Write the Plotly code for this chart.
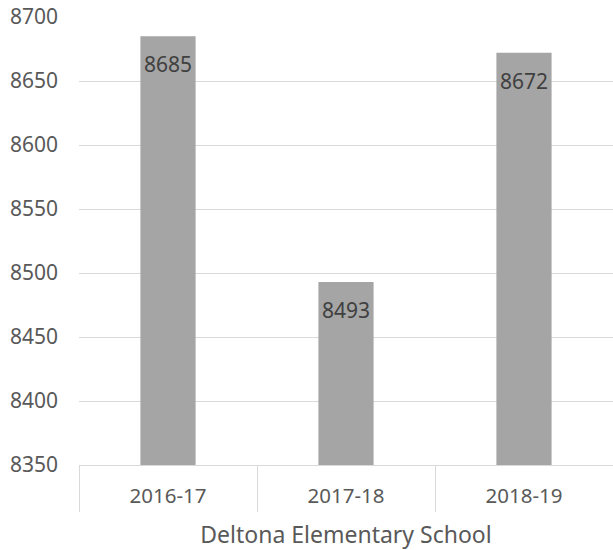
import plotly.graph_objects as go

categories = ["2016-17", "2017-18", "2018-19"]
values = [8685, 8493, 8672]
group_label = "Deltona Elementary School"

fig = go.Figure(go.Bar(
    x=categories, y=values,
    marker=dict(color="#A5A5A5", line=dict(width=0)),
    width=0.31,
    hoverinfo="x+y",
))

for c, v in zip(categories, values):
    fig.add_annotation(
        x=c, y=v, text=str(v), showarrow=False,
        yanchor="middle", yshift=-28,
        font=dict(family="Noto Sans", size=21, color="#404040"),
    )

fig.update_layout(
    width=613, height=550,
    margin=dict(l=79, r=0, t=17, b=85),
    paper_bgcolor="white", plot_bgcolor="white",
    showlegend=False,
    font=dict(family="Noto Sans", size=21, color="#595959"),
    xaxis=dict(
        type="category", automargin=False,
        showline=True, linecolor="#D9D9D9", linewidth=1,
        ticks="outside", tickson="boundaries", ticklen=46,
        tickcolor="#D9D9D9", tickwidth=1,
        ticklabelstandoff=12,
        tickfont=dict(size=20.5, color="#595959"),
        showgrid=False,
        title=dict(text=group_label, font=dict(size=23, color="#595959"), standoff=30),
    ),
    yaxis=dict(
        range=[8350, 8700], dtick=50, tick0=8350, automargin=False,
        showgrid=True, gridcolor="#D9D9D9", gridwidth=1,
        zeroline=False, showline=False,
        ticks="", ticklabelstandoff=20, ticklabeloverflow="allow",
        tickfont=dict(size=21, color="#595959"),
    ),
)

fig.write_html(
    "out.html",
    config={"displayModeBar": False},
    post_script="document.body.style.margin='0';document.body.style.overflow='hidden';",
)
